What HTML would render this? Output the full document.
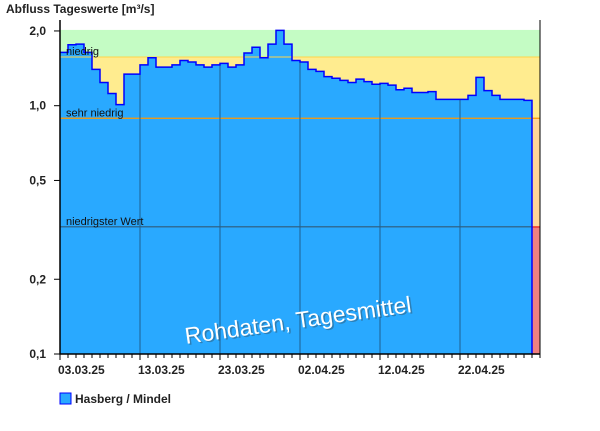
<!DOCTYPE html>
<html><head><meta charset="utf-8"><style>
body{margin:0;background:#fff;width:600px;height:426px;overflow:hidden;font-family:"Liberation Sans",sans-serif}
</style></head><body>
<svg width="600" height="426" xmlns="http://www.w3.org/2000/svg" font-family="Liberation Sans, sans-serif">
<text x="6" y="13" font-size="12" font-weight="bold" fill="#222">Abfluss Tageswerte [m³/s]</text>
<g id="plot"></g>
<text x="298" y="328" font-size="23" fill="#333" opacity="0.35" text-anchor="middle" transform="rotate(-8 298 320) translate(1.5 1.5)">Rohdaten, Tagesmittel</text>
<text x="298" y="328" font-size="23" fill="#fff" text-anchor="middle" transform="rotate(-8 298 320)">Rohdaten, Tagesmittel</text>
<rect x="60" y="393" width="11" height="11" fill="#29a9ff" stroke="#0000ff"/>
<text x="75" y="403" font-size="12" font-weight="bold" fill="#222">Hasberg / Mindel</text>
</svg>
<script>
const values=[1.64,1.76,1.77,1.64,1.40,1.24,1.12,1.01,1.34,1.34,1.46,1.56,1.43,1.43,1.46,1.52,1.50,1.46,1.43,1.46,1.48,1.43,1.46,1.63,1.72,1.56,1.77,2.01,1.77,1.52,1.50,
1.40,1.375,1.31,1.29,1.265,1.24,1.28,1.25,1.22,1.23,1.21,1.16,1.175,1.13,1.13,1.14,1.06,1.06,1.06,1.06,1.10,1.30,1.15,1.10,1.06,1.06,1.06,1.05];
const yTicks=[2,1,0.5,0.2,0.1];
const yTickLabels=["2,0","1,0","0,5","0,2","0,1"];
const xTickDays=[0,10,20,30,40,50];
const xTickLabels=["03.03.25","13.03.25","23.03.25","02.04.25","12.04.25","22.04.25"];
const thresholds={niedrig:1.57,sehrNiedrig:0.89,niedrigster:0.325,top:2.01};
const totalDays=60;
const X0=60,X1=540,Y0=354,PPD=248.3;
const y=v=>Y0-(Math.log10(v)+1)*PPD;
const x=d=>X0+d*8;
const NS="http://www.w3.org/2000/svg";
const g=document.getElementById('plot');
function mk(t,a){const e=document.createElementNS(NS,t);for(const k in a)e.setAttribute(k,a[k]);g.appendChild(e);return e;}
let e;
e=mk('rect',{x:X0,y:y(thresholds.top)-0.5,width:X1-X0,height:y(thresholds.niedrig)-y(thresholds.top)+0.5,fill:'#c4fcc4'});

e=mk('rect',{x:X0,y:y(thresholds.niedrig),width:X1-X0,height:y(thresholds.sehrNiedrig)-y(thresholds.niedrig),fill:'#ffec8f'});

e=mk('rect',{x:X0,y:y(thresholds.sehrNiedrig),width:X1-X0,height:y(thresholds.niedrigster)-y(thresholds.sehrNiedrig),fill:'#ffd699'});

e=mk('rect',{x:X0,y:y(thresholds.niedrigster),width:X1-X0,height:Y0-y(thresholds.niedrigster),fill:'#f08080'});

let d=`M${x(0)},${Y0}`;
values.forEach((v,i)=>{d+=` L${x(i)},${y(v).toFixed(1)} L${x(i+1)},${y(v).toFixed(1)}`;});
d+=` L${x(values.length)},${Y0} Z`;
e=mk('path',{d:d,fill:'#29a9ff',stroke:'none'});

e=mk('line',{x1:X0,x2:X1,y1:y(thresholds.niedrig),y2:y(thresholds.niedrig),stroke:'#ffd54a','stroke-width':1});

e=mk('line',{x1:X0,x2:X1,y1:y(thresholds.sehrNiedrig),y2:y(thresholds.sehrNiedrig),stroke:'#ff9900','stroke-width':1.2});

e=mk('line',{x1:X0,x2:X1,y1:y(thresholds.niedrigster),y2:y(thresholds.niedrigster),stroke:'#333','stroke-width':0.8});

e=mk('line',{x1:x(values.length),x2:X1,y1:y(thresholds.niedrigster),y2:y(thresholds.niedrigster),stroke:'#e00','stroke-width':1});

xTickDays.forEach((dd,i)=>{if(i>0){const top=Math.min(y(values[dd]),y(values[dd-1]));
e=mk('line',{x1:x(dd),x2:x(dd),y1:top,y2:Y0,stroke:'#1f5f8f','stroke-width':1});
}});
let s='';
values.forEach((v,i)=>{s+=(i?' L':'M')+`${x(i)},${y(v).toFixed(1)} L${x(i+1)},${y(v).toFixed(1)}`;});
s+=` L${x(values.length)},${Y0}`;
e=mk('path',{d:s,fill:'none',stroke:'#0000ff','stroke-width':1.5});

[['niedrig',thresholds.niedrig,'niedrig-label'],['sehr niedrig',thresholds.sehrNiedrig,'sehr-niedrig-label'],['niedrigster Wert',thresholds.niedrigster,'niedrigster-label']].forEach(a=>{
e=mk('text',{x:66,y:y(a[1])-2,'font-size':11,fill:'#111'});e.textContent=a[0];
});
e=mk('path',{d:`M${X0},20 L${X0},${Y0} L${X1},${Y0}`,fill:'none',stroke:'#000','stroke-width':1.5});

e=mk('line',{x1:X1,x2:X1,y1:20,y2:Y0,stroke:'#000','stroke-width':1});

yTicks.forEach((v,i)=>{
e=mk('line',{x1:54,x2:X0,y1:y(v),y2:y(v),stroke:'#000'});

e=mk('text',{x:46,y:y(v)+4,'font-size':12,'font-weight':'bold','text-anchor':'end',fill:'#222'});e.textContent=yTickLabels[i];
});
for(let i=0;i<=totalDays;i++){e=mk('line',{x1:x(i),x2:x(i),y1:Y0,y2:Y0+(xTickDays.includes(i)?6:4),stroke:'#000'});
}
xTickDays.forEach((dd,i)=>{e=mk('text',{x:x(dd)-2,y:374,'font-size':12,'font-weight':'bold',fill:'#222'});e.textContent=xTickLabels[i];
});
</script>
</body></html>
